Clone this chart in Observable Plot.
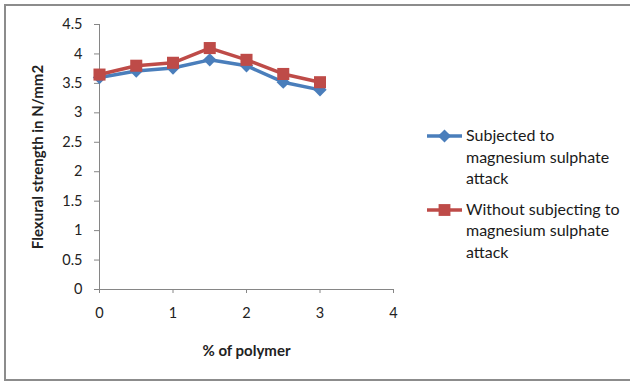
<!DOCTYPE html>
<html>
<head>
<meta charset="utf-8">
<script src="https://cdn.jsdelivr.net/npm/d3@7"></script>
<script src="https://cdn.jsdelivr.net/npm/@observablehq/plot@0.6"></script>
<style>
  html, body { margin: 0; padding: 0; background: #fff; overflow: hidden; }
  #wrap { position: relative; width: 630px; height: 385px; overflow: hidden; font-family: Lato, sans-serif; }
  #frame { position: absolute; left: 4px; top: 4px; width: 700px; height: 377px; border: 2px solid #8c8c8c; box-sizing: border-box; }
  #chart { position: absolute; left: 0; top: 0; }
  #chart svg [aria-label="x-axis label"] text, #chart svg [aria-label="y-axis label"] text { font-weight: bold; font-size: 15px; }
  #legend { position: absolute; left: 427px; top: 124px; font-size: 16px; color: #1a1a1a; line-height: 21.5px; }
  .entry { display: flex; align-items: flex-start; margin-bottom: 9px; }
  .entry svg { flex: none; margin-top: 1px; margin-right: 4px; }
</style>
</head>
<body>
<div id="wrap">
  <div id="frame"></div>
  <div id="chart"></div>
  <div id="legend"></div>
</div>
<script>
const polymer = [0, 0.5, 1, 1.5, 2, 2.5, 3];
const subjected = [3.60, 3.71, 3.76, 3.90, 3.80, 3.52, 3.39];
const without = [3.65, 3.80, 3.85, 4.10, 3.90, 3.66, 3.52];
const seriesNames = ["Subjected to magnesium sulphate attack", "Without subjecting to magnesium sulphate attack"];
const legendLines = [["Subjected to", "magnesium sulphate", "attack"], ["Without subjecting to", "magnesium sulphate", "attack"]];
const colors = ["#4a7ebb", "#be4b48"];
const symbols = ["diamond2", "square"];
const xTicks = [0, 1, 2, 3, 4];
const yTicks = [0, 0.5, 1, 1.5, 2, 2.5, 3, 3.5, 4, 4.5];
const xLabel = "% of polymer";
const yLabel = "Flexural strength in N/mm2";

const rows = [];
polymer.forEach((p, i) => {
  rows.push({ x: p, y: subjected[i], s: seriesNames[0] });
  rows.push({ x: p, y: without[i], s: seriesNames[1] });
});

const axisColor = "#868686";
const chart = Plot.plot({
  width: 630,
  height: 385,
  marginLeft: 99,
  marginRight: 237,
  marginTop: 24,
  marginBottom: 96,
  style: { fontFamily: "Lato, sans-serif", fontSize: "14.5px", color: "#222", background: "transparent" },
  x: { domain: [0, 4], labelArrow: "none" },
  y: { domain: [0, 4.5], labelArrow: "none" },
  color: { domain: seriesNames, range: colors },
  symbol: { domain: seriesNames, range: symbols },
  marks: [
    Plot.ruleY([0], { stroke: axisColor }),
    Plot.ruleX([0], { stroke: axisColor }),
    Plot.axisX({ ticks: xTicks, tickFormat: d => String(d), tickSize: 4, tickPadding: 14, stroke: axisColor, fill: "#222", label: xLabel, labelArrow: "none", labelAnchor: "center", labelOffset: 66 }),
    Plot.axisY({ ticks: yTicks, tickFormat: d => String(d), tickSize: 5, tickPadding: 12, stroke: axisColor, fill: "#222", label: yLabel, labelArrow: "none", labelAnchor: "center", labelOffset: 67 }),
    Plot.line(rows, { x: "x", y: "y", z: "s", stroke: "s", strokeWidth: 3.5 }),
    Plot.dot(rows.filter(d => d.s === seriesNames[0]), { x: "x", y: "y", symbol: "s", fill: "s", r: 6, stroke: "none" }),
    Plot.dot(rows.filter(d => d.s === seriesNames[1]), { x: "x", y: "y", symbol: "s", fill: "s", r: 6.8, stroke: "none" })
  ]
});
// strip any automatic arrows from axis labels, if present
chart.querySelectorAll('[aria-label$="axis label"] text').forEach(t => {
  t.textContent = t.textContent.replace(/\s*[↑↓→←]\s*/g, "").trim();
});
document.getElementById("chart").appendChild(chart);

// Legend (HTML)
const legend = document.getElementById("legend");
legendLines.forEach((lines, i) => {
  const entry = document.createElement("div");
  entry.className = "entry";
  const sw = d3.create("svg").attr("width", 35).attr("height", 21);
  sw.append("line").attr("x1", 0).attr("x2", 35).attr("y1", 11).attr("y2", 11).attr("stroke", colors[i]).attr("stroke-width", 3.5);
  const sym = i === 0 ? d3.symbolDiamond2 : d3.symbolSquare;
  sw.append("path").attr("d", d3.symbol(sym, i === 0 ? 110 : 140)()).attr("transform", "translate(17.5,11)").attr("fill", colors[i]);
  entry.appendChild(sw.node());
  const txt = document.createElement("div");
  txt.innerHTML = lines.join("<br>");
  entry.appendChild(txt);
  legend.appendChild(entry);
});
</script>
</body>
</html>
